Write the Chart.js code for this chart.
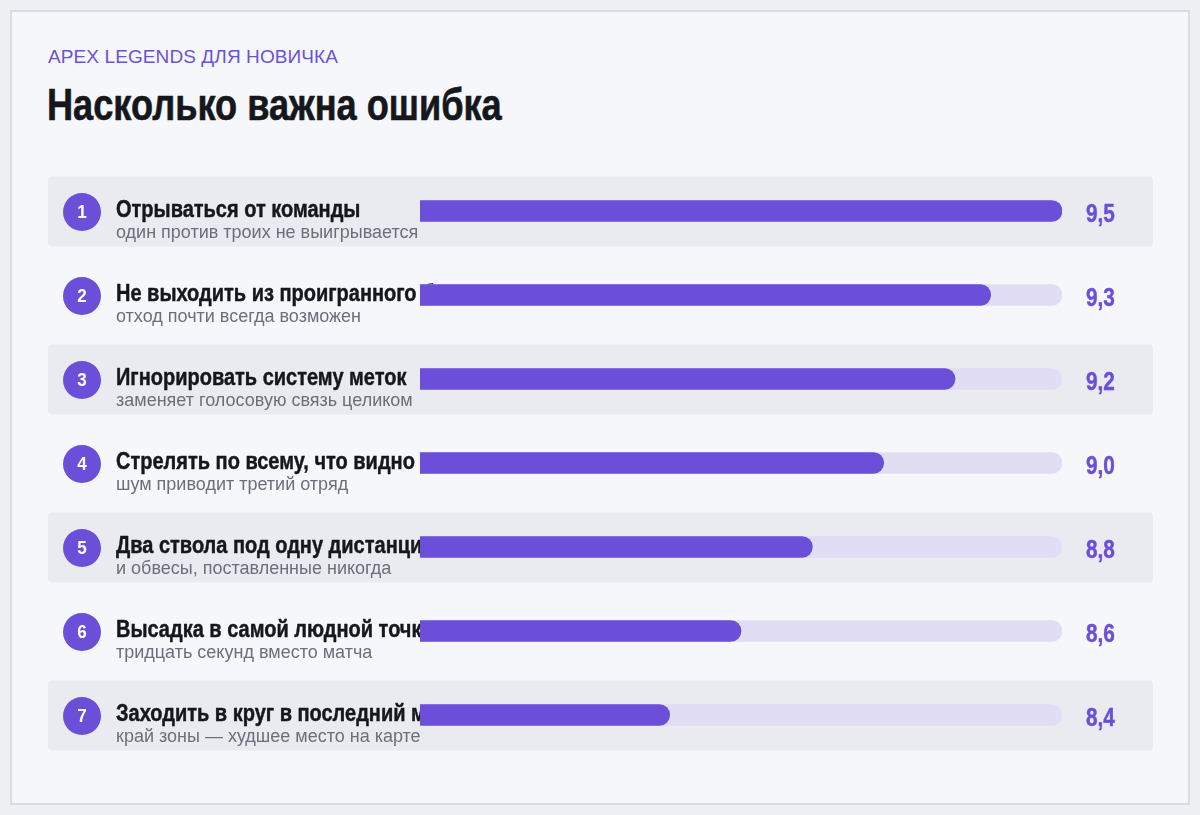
<!DOCTYPE html>
<html>
<head>
<meta charset="utf-8">
<script src="https://cdn.jsdelivr.net/npm/chart.js@4"></script>
<style>
  html, body { margin: 0; padding: 0; }
  body { width: 1200px; height: 815px; background: #eef0f4; position: relative; overflow: hidden; font-family: "Liberation Sans", Arial, sans-serif; }
  .card { position: absolute; left: 10px; top: 10px; width: 1176px; height: 791px; background: #f6f7fa; border: 2px solid #d9dce4; }
  .kicker { position: absolute; left: 48px; top: 46px; font-size: 19px; color: #6a52d6; letter-spacing: 0.1px; white-space: nowrap; }
  .title { position: absolute; left: 47px; top: 80px; font-weight: bold; font-size: 44px; color: #15171c; white-space: nowrap; transform: scaleX(0.822); transform-origin: 0 0; -webkit-text-stroke: 0.6px #15171c; }
  canvas { position: absolute; left: 0; top: 0; }
</style>
</head>
<body>
<div class="card"></div>
<div class="kicker">APEX LEGENDS ДЛЯ НОВИЧКА</div>
<div class="title">Насколько важна ошибка</div>
<canvas id="c" width="1200" height="815"></canvas>
<script>
const labels = [
  "Отрываться от команды",
  "Не выходить из проигранного боя",
  "Игнорировать систему меток",
  "Стрелять по всему, что видно",
  "Два ствола под одну дистанцию",
  "Высадка в самой людной точке",
  "Заходить в круг в последний момент"
];
const notes = [
  "один против троих не выигрывается",
  "отход почти всегда возможен",
  "заменяет голосовую связь целиком",
  "шум приводит третий отряд",
  "и обвесы, поставленные никогда",
  "тридцать секунд вместо матча",
  "край зоны — худшее место на карте"
];
const values = [9.5, 9.3, 9.2, 9.0, 8.8, 8.6, 8.4];
const scaleMin = 7.7;
const scaleMax = 9.5;
const trackValues = values.map(() => scaleMax);

const PURPLE = "#6b4fd8";
const TRACK = "#e1ddf5";
const BAND = "#e9ebf0";

function roundRect(ctx, x, y, w, h, r) {
  ctx.beginPath();
  ctx.moveTo(x + r, y);
  ctx.lineTo(x + w - r, y);
  ctx.arcTo(x + w, y, x + w, y + r, r);
  ctx.lineTo(x + w, y + h - r);
  ctx.arcTo(x + w, y + h, x + w - r, y + h, r);
  ctx.lineTo(x + r, y + h);
  ctx.arcTo(x, y + h, x, y + h - r, r);
  ctx.lineTo(x, y + r);
  ctx.arcTo(x, y, x + r, y, r);
  ctx.closePath();
}

function narrowText(ctx, text, x, y, sx, stroke) {
  ctx.save();
  ctx.translate(x, y);
  ctx.scale(sx, 1);
  ctx.fillText(text, 0, 0);
  if (stroke) {
    ctx.strokeStyle = ctx.fillStyle;
    ctx.lineWidth = stroke;
    ctx.lineJoin = "round";
    ctx.strokeText(text, 0, 0);
  }
  ctx.restore();
}

const rowsPlugin = {
  id: "rows",
  beforeDatasetsDraw(chart) {
    const ctx = chart.ctx;
    const yScale = chart.scales.y;
    ctx.save();
    labels.forEach((lab, i) => {
      const cy = yScale.getPixelForValue(i);
      if (i % 2 === 0) {
        ctx.fillStyle = BAND;
        roundRect(ctx, 48, cy - 34.5, 1105, 70, 4);
        ctx.fill();
      }
      ctx.fillStyle = PURPLE;
      ctx.beginPath();
      ctx.arc(82, cy + 1, 19, 0, Math.PI * 2);
      ctx.fill();
      ctx.fillStyle = "#ffffff";
      ctx.font = "bold 18px 'Liberation Sans', Arial, sans-serif";
      ctx.textAlign = "center";
      ctx.textBaseline = "middle";
      narrowText(ctx, String(i + 1), 82, cy + 2, 0.95, 0);
      ctx.textAlign = "left";
      ctx.textBaseline = "alphabetic";
      ctx.fillStyle = "#15171c";
      ctx.font = "bold 24px 'Liberation Sans', Arial, sans-serif";
      narrowText(ctx, lab, 116, cy + 6, 0.833, 0.45);
      ctx.fillStyle = "#6b6f7b";
      ctx.font = "18px 'Liberation Sans', Arial, sans-serif";
      ctx.fillText(notes[i], 116, cy + 27);
    });
    ctx.restore();
  },
  afterDatasetsDraw(chart) {
    const ctx = chart.ctx;
    const yScale = chart.scales.y;
    ctx.save();
    ctx.fillStyle = PURPLE;
    ctx.font = "bold 26px 'Liberation Sans', Arial, sans-serif";
    ctx.textAlign = "left";
    ctx.textBaseline = "alphabetic";
    values.forEach((v, i) => {
      const cy = yScale.getPixelForValue(i);
      narrowText(ctx, v.toFixed(1).replace(".", ","), 1086, cy + 11, 0.8, 0.45);
    });
    ctx.restore();
  }
};

new Chart(document.getElementById("c"), {
  type: "bar",
  data: {
    labels: labels,
    datasets: [
      {
        data: values,
        backgroundColor: PURPLE,
        barThickness: 21,
        borderRadius: 11,
        borderSkipped: false,
        grouped: false,
        order: 1
      },
      {
        data: trackValues,
        backgroundColor: TRACK,
        barThickness: 21,
        borderRadius: 11,
        borderSkipped: false,
        grouped: false,
        order: 2
      }
    ]
  },
  options: {
    indexAxis: "y",
    responsive: false,
    animation: false,
    devicePixelRatio: 1,
    layout: { padding: { left: 420, right: 138, top: 169, bottom: 58 } },
    plugins: { legend: { display: false }, tooltip: { enabled: false }, title: { display: false } },
    scales: {
      x: { display: false, min: scaleMin, max: scaleMax },
      y: { display: false }
    }
  },
  plugins: [rowsPlugin]
});
</script>
</body>
</html>
